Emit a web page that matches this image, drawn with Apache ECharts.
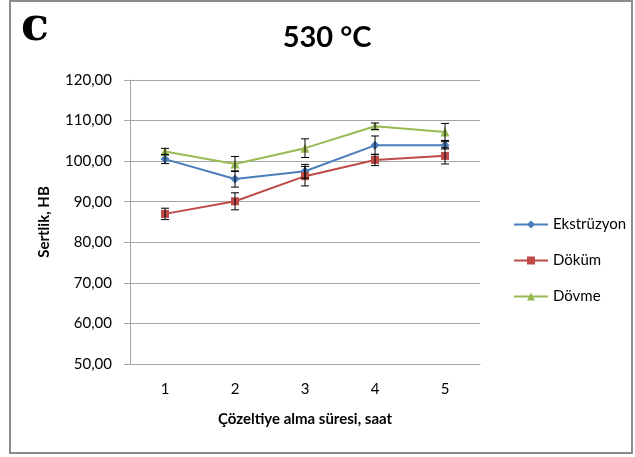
<!DOCTYPE html>
<html>
<head>
<meta charset="utf-8">
<script src="https://cdn.jsdelivr.net/npm/echarts@6/dist/echarts.min.js"></script>
<style>html,body{margin:0;padding:0;background:#fff}#c{width:635px;height:457px}</style>
</head>
<body>
<div id="c"></div>
<script>
const categories = ['1', '2', '3', '4', '5'];
const ekstruzyon = [100.5, 95.6, 97.5, 103.9, 103.9];
const ekstruzyonErr = [1.1, 2.0, 1.7, 2.3, 0.9];
const dokum = [87.0, 90.1, 96.3, 100.3, 101.3];
const dokumErr = [1.4, 2.1, 2.4, 1.4, 2.0];
const dovme = [102.4, 99.3, 103.2, 108.6, 107.2];
const dovmeErr = [0.75, 1.85, 2.3, 0.8, 2.1];
const seriesNames = ['Ekstrüzyon', 'Döküm', 'Dövme'];
const colors = ['#4A7EBB', '#BE4B48', '#98B954'];
const yMin = 50, yMax = 120, yStep = 10;

const font = 'Lato, "Open Sans", sans-serif';

function errData(vals, errs) {
  return vals.map((v, i) => [i, v - errs[i], v + errs[i]]);
}
function errSeries(vals, errs) {
  return {
    type: 'custom',
    z: 5,
    silent: true,
    renderItem: function (params, api) {
      const x = api.value(0);
      const lo = api.coord([x, api.value(1)]);
      const hi = api.coord([x, api.value(2)]);
      const w = 4;
      const st = { stroke: '#000', lineWidth: 1 };
      return {
        type: 'group',
        children: [
          { type: 'line', shape: { x1: lo[0], y1: lo[1], x2: hi[0], y2: hi[1] }, style: st },
          { type: 'line', shape: { x1: lo[0] - w, y1: lo[1], x2: lo[0] + w, y2: lo[1] }, style: st },
          { type: 'line', shape: { x1: hi[0] - w, y1: hi[1], x2: hi[0] + w, y2: hi[1] }, style: st }
        ]
      };
    },
    encode: { x: 0, y: [1, 2] },
    data: errData(vals, errs)
  };
}
function lineSeries(name, vals, color, symbol, size) {
  return {
    name: name,
    type: 'line',
    data: vals,
    symbol: symbol,
    symbolSize: size,
    z: 3,
    lineStyle: { color: color, width: 2 },
    itemStyle: { color: color },
    showAllSymbol: true
  };
}

const chart = echarts.init(document.getElementById('c'), null, { renderer: 'canvas' });
chart.setOption({
  animation: false,
  backgroundColor: '#fff',
  title: {
    text: '530 °C',
    left: 322,
    top: 18,
    textAlign: 'center',
    textStyle: { fontFamily: font, fontWeight: 'bold', fontSize: 29, color: '#000' }
  },
  graphic: [
    { type: 'rect', shape: { x: 10, y: 1, width: 622, height: 452 }, style: { fill: 'none', stroke: '#8c8c8c', lineWidth: 2 }, z: 0 },
    { type: 'text', left: 21, top: 5, style: { text: 'c', font: 'bold 46px "DejaVu Serif", "Liberation Serif", serif', fill: '#000' } }
  ],
  legend: {
    orient: 'vertical',
    left: 508,
    top: 212,
    itemGap: 21,
    itemWidth: 34,
    itemHeight: 10,
    data: seriesNames,
    textStyle: { fontFamily: font, fontSize: 15, color: '#000' }
  },
  grid: { left: 130, right: 155, top: 80, bottom: 93, containLabel: false },
  xAxis: {
    type: 'category',
    data: categories,
    boundaryGap: true,
    name: 'Çözeltiye alma süresi, saat',
    nameLocation: 'middle',
    nameGap: 48,
    nameTextStyle: { fontFamily: font, fontWeight: 'bold', fontSize: 15, color: '#000' },
    axisLine: { lineStyle: { color: '#a6a6a6', width: 1 } },
    axisTick: { show: false },
    axisLabel: { margin: 18, fontFamily: font, fontSize: 15, color: '#000' }
  },
  yAxis: {
    type: 'value',
    min: yMin,
    max: yMax,
    interval: yStep,
    name: 'Sertlik, HB',
    nameLocation: 'middle',
    nameGap: 78,
    nameRotate: 90,
    nameTextStyle: { fontFamily: font, fontWeight: 'bold', fontSize: 15, color: '#000' },
    axisLine: { show: true, lineStyle: { color: '#a6a6a6', width: 1 } },
    axisTick: { show: true, length: 6, lineStyle: { color: '#a6a6a6' } },
    splitLine: { lineStyle: { color: '#a6a6a6', width: 1 } },
    axisLabel: {
      margin: 18,
      fontFamily: font,
      fontSize: 15,
      color: '#000',
      formatter: v => v.toFixed(2).replace('.', ',')
    }
  },
  series: [
    lineSeries(seriesNames[0], ekstruzyon, colors[0], 'diamond', 9),
    lineSeries(seriesNames[1], dokum, colors[1], 'rect', 8),
    lineSeries(seriesNames[2], dovme, colors[2], 'triangle', 9),
    errSeries(ekstruzyon, ekstruzyonErr),
    errSeries(dokum, dokumErr),
    errSeries(dovme, dovmeErr)
  ]
});
</script>
</body>
</html>
